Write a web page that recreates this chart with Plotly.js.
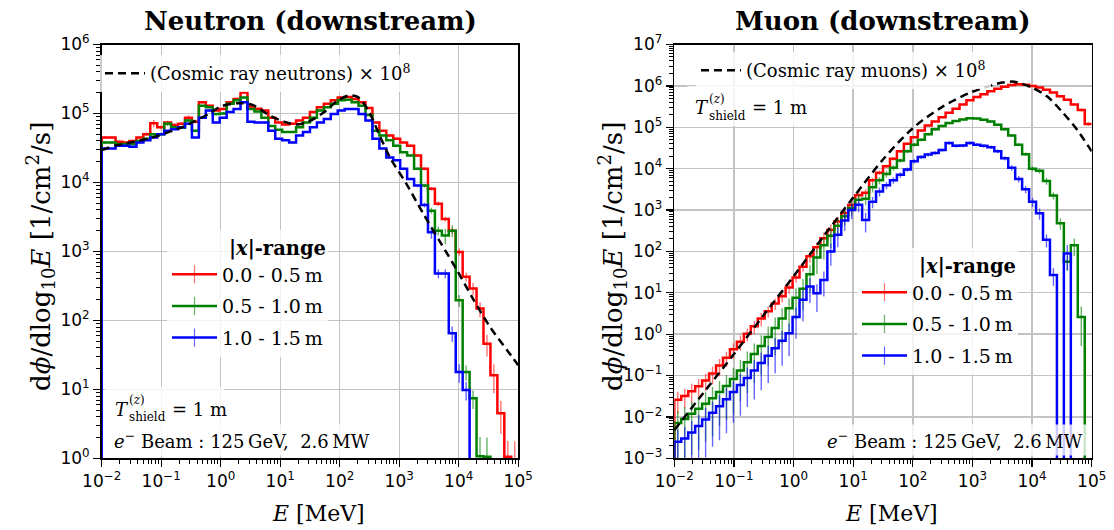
<!DOCTYPE html>
<html>
<head>
<meta charset="utf-8">
<script src="https://cdn.plot.ly/plotly-3.0.1.min.js"></script>
<style>
  html, body { margin: 0; padding: 0; background: #ffffff; }
  #chart { width: 1114px; height: 530px; }
</style>
</head>
<body>
<div id="chart"></div>
<script>
// ---------------------------------------------------------------------------
// Energy binning: 60 logarithmic bins from 1e-2 to 1e5 MeV
// ---------------------------------------------------------------------------
const E_MIN_EXP = -2, E_MAX_EXP = 5, N_BINS = 60;
const binEdges = [];
for (let k = 0; k <= N_BINS; k++) {
  binEdges.push(Math.pow(10, E_MIN_EXP + (E_MAX_EXP - E_MIN_EXP) * k / N_BINS));
}
const binCenters = binEdges.slice(0, N_BINS).map((e, i) => Math.sqrt(e * binEdges[i + 1]));

// Range labels for the |x| selections
const rangeLabels = ['0.0 - 0.5\u2009m', '0.5 - 1.0\u2009m', '1.0 - 1.5\u2009m'];

// ---------------------------------------------------------------------------
// Neutron flux, dphi/dlog10E [1/cm^2/s], per energy bin (0 = empty bin)
// ---------------------------------------------------------------------------
const neutronNear = [
  4.5e4, 4.5e4, 3.9e4, 3.8e4, 4.0e4, 4.5e4, 5.0e4, 7.2e4, 6.3e4, 7.4e4,
  6.8e4, 7.1e4, 8.7e4, 7.6e4, 1.45e5, 1.29e5, 1.10e5, 1.16e5, 1.45e5, 1.62e5,
  2.02e5, 1.26e5, 1.17e5, 1.10e5, 8.7e4, 7.4e4, 6.9e4, 7.1e4, 7.9e4, 8.7e4,
  1.05e5, 1.23e5, 1.38e5, 1.55e5, 1.70e5, 1.74e5, 1.62e5, 1.45e5, 1.20e5, 7.4e4,
  5.6e4, 4.8e4, 4.3e4, 3.8e4, 3.4e4, 2.45e4, 1.58e4, 8.1e3, 4.9e3, 2.95e3,
  2.0e3, 980, 430, 290, 148, 46, 16, 4.5, 1.05, 0.5
];
const neutronMid = [
  3.8e4, 3.8e4, 3.6e4, 3.6e4, 3.6e4, 4.0e4, 4.3e4, 5.0e4, 5.0e4, 7.1e4,
  6.3e4, 6.2e4, 7.9e4, 5.6e4, 1.29e5, 1.23e5, 9.8e4, 1.0e5, 1.38e5, 1.55e5,
  1.70e5, 1.16e5, 1.07e5, 8.7e4, 6.6e4, 5.8e4, 5.4e4, 5.4e4, 6.3e4, 7.4e4,
  8.7e4, 1.10e5, 1.23e5, 1.38e5, 1.55e5, 1.58e5, 1.45e5, 1.29e5, 9.5e4, 5.6e4,
  4.8e4, 4.1e4, 3.4e4, 2.75e4, 2.45e4, 1.58e4, 9.0e3, 3.9e3, 2.0e3, 1.7e3,
  2.0e3, 195, 17.8, 7.4, 1.07, 1.05, 0, 0, 0, 0
];
const neutronFar = [
  3.1e4, 3.1e4, 3.4e4, 3.4e4, 3.3e4, 3.8e4, 4.1e4, 4.5e4, 5.0e4, 5.6e4,
  5.9e4, 6.3e4, 7.1e4, 4.5e4, 8.7e4, 1.10e5, 7.4e4, 8.7e4, 1.05e5, 1.16e5,
  1.45e5, 7.6e4, 7.4e4, 7.4e4, 5.6e4, 4.3e4, 4.1e4, 3.8e4, 4.8e4, 5.4e4,
  6.3e4, 7.4e4, 8.3e4, 9.8e4, 1.10e5, 1.16e5, 1.16e5, 9.8e4, 7.9e4, 4.3e4,
  3.1e4, 2.3e4, 2.1e4, 1.58e4, 1.12e4, 9.0e3, 4.7e3, 1.9e3, 480, 480,
  65, 17.8, 9.8, 0, 0, 0, 0, 0, 0, 0
];
// relative statistical uncertainty per bin
const neutronNearErr = [
  0.05, 0.04, 0.04, 0.04, 0.04, 0.05, 0.06, 0.12, 0.06, 0.06,
  0.05, 0.05, 0.08, 0.06, 0.05, 0.04, 0.04, 0.04, 0.04, 0.04,
  0.06, 0.04, 0.03, 0.03, 0.03, 0.03, 0.03, 0.03, 0.03, 0.03,
  0.03, 0.03, 0.03, 0.03, 0.03, 0.03, 0.03, 0.03, 0.03, 0.03,
  0.03, 0.03, 0.03, 0.03, 0.04, 0.04, 0.05, 0.06, 0.08, 0.08,
  0.10, 0.12, 0.15, 0.20, 0.25, 0.35, 0.45, 0.50, 0.70, 2.5
];
const neutronMidErr = [
  0.04, 0.04, 0.04, 0.04, 0.04, 0.04, 0.04, 0.05, 0.05, 0.08,
  0.05, 0.05, 0.05, 0.05, 0.04, 0.04, 0.04, 0.04, 0.03, 0.03,
  0.03, 0.03, 0.03, 0.03, 0.03, 0.03, 0.03, 0.03, 0.03, 0.03,
  0.03, 0.03, 0.03, 0.03, 0.03, 0.03, 0.03, 0.03, 0.03, 0.03,
  0.03, 0.03, 0.04, 0.04, 0.04, 0.05, 0.06, 0.10, 0.15, 0.25,
  0.20, 0.20, 0.25, 0.30, 0.90, 0.90, 0, 0, 0, 0
];
const neutronFarErr = [
  0.04, 0.03, 0.03, 0.03, 0.03, 0.03, 0.03, 0.03, 0.03, 0.03,
  0.03, 0.03, 0.03, 0.03, 0.03, 0.03, 0.03, 0.03, 0.03, 0.03,
  0.03, 0.03, 0.03, 0.03, 0.03, 0.03, 0.03, 0.03, 0.03, 0.03,
  0.03, 0.03, 0.03, 0.03, 0.03, 0.03, 0.03, 0.03, 0.03, 0.03,
  0.03, 0.03, 0.03, 0.03, 0.03, 0.05, 0.08, 0.20, 0.15, 0.15,
  0.25, 0.30, 0.30, 0, 0, 0, 0, 0, 0, 0
];
// Cosmic-ray neutron spectrum (scaled by 1e8)
const cosmicNeutronE = [
  0.01, 0.0166, 0.06, 0.22, 0.62, 1.0, 2.0, 3.5, 7, 13, 19, 30, 55, 90,
  140, 200, 300, 450, 700, 1300, 2500, 5000, 9300, 18000, 34000, 65000, 100000
];
const cosmicNeutronFlux = [
  2.95e4, 3.4e4, 4.3e4, 6.3e4, 9.8e4, 1.26e5, 1.41e5, 1.32e5, 9.1e4, 7.4e4, 6.9e4, 7.6e4, 1.05e5, 1.51e5,
  1.82e5, 1.74e5, 1.12e5, 5.2e4, 2.3e4, 9.8e3, 3.6e3, 1.32e3, 540, 195, 79, 37, 22.4
];

// ---------------------------------------------------------------------------
// Muon flux, dphi/dlog10E [1/cm^2/s], per energy bin (0 = empty bin)
// ---------------------------------------------------------------------------
const muonNear = [
  0.026, 0.032, 0.042, 0.055, 0.076, 0.112, 0.174, 0.27, 0.43, 0.66,
  1.02, 1.55, 2.4, 3.6, 5.5, 8.3, 13.5, 23.4, 42.7, 76,
  126, 209, 331, 525, 851, 1320, 2290, 2630, 5250, 7940,
  1.15e4, 1.74e4, 2.63e4, 3.98e4, 5.75e4, 8.3e4, 1.10e5, 1.38e5, 1.74e5, 2.24e5,
  2.82e5, 3.55e5, 4.47e5, 5.37e5, 6.31e5, 7.41e5, 8.51e5, 9.55e5, 1.05e6, 1.10e6,
  1.07e6, 1.0e6, 9.1e5, 8.1e5, 6.9e5, 5.6e5, 4.6e5, 3.55e5, 2.63e5, 1.2e5
];
const muonMid = [
  0.0071, 0.0089, 0.012, 0.0158, 0.0209, 0.0282, 0.040, 0.056, 0.083, 0.132,
  0.209, 0.33, 0.52, 0.85, 1.41, 2.4, 4.2, 7.6, 12.6, 28,
  71, 141, 240, 417, 708, 1120, 1780, 1860, 3550, 5250,
  7400, 1.05e4, 1.58e4, 2.63e4, 3.8e4, 5.0e4, 6.8e4, 8.9e4, 1.07e5, 1.26e5,
  1.41e5, 1.55e5, 1.66e5, 1.62e5, 1.51e5, 1.38e5, 1.15e5, 8.9e4, 6.3e4, 3.8e4,
  2.24e4, 1.0e4, 8.9e3, 5.0e3, 2.24e3, 479, 56, 141, 2.6, 0
];
const muonFar = [
  0.0025, 0.0030, 0.0042, 0.0060, 0.0087, 0.0126, 0.0182, 0.0269, 0.040, 0.059,
  0.087, 0.132, 0.20, 0.30, 0.457, 0.69, 1.05, 2.6, 6.8, 14.1,
  9.8, 20.4, 100, 251, 562, 1000, 1350, 575, 1580, 2820,
  3980, 5250, 7080, 9550, 1.51e4, 1.91e4, 2.19e4, 2.4e4, 2.82e4, 4.17e4,
  3.55e4, 3.63e4, 4.17e4, 3.8e4, 3.55e4, 3.3e4, 2.63e4, 1.78e4, 1.05e4, 5620,
  3160, 1580, 832, 191, 26.9, 0, 89, 0, 0, 0
];
const muonNearErr = [
  0.55, 0.50, 0.50, 0.50, 0.45, 0.45, 0.45, 0.40, 0.40, 0.40,
  0.35, 0.35, 0.35, 0.30, 0.30, 0.30, 0.30, 0.25, 0.25, 0.30,
  0.30, 0.35, 0.35, 0.30, 0.30, 0.30, 0.25, 0.20, 0.15, 0.12,
  0.10, 0.10, 0.08, 0.08, 0.06, 0.06, 0.05, 0.05, 0.05, 0.04,
  0.04, 0.04, 0.04, 0.04, 0.04, 0.04, 0.04, 0.04, 0.04, 0.04,
  0.04, 0.04, 0.05, 0.05, 0.05, 0.06, 0.06, 0.07, 0.08, 0.10
];
const muonMidErr = [
  0.95, 0.92, 0.90, 0.90, 0.88, 0.88, 0.85, 0.85, 0.85, 0.82,
  0.82, 0.80, 0.80, 0.80, 0.78, 0.75, 0.75, 0.70, 0.70, 0.65,
  0.60, 0.55, 0.50, 0.45, 0.40, 0.35, 0.30, 0.30, 0.25, 0.20,
  0.18, 0.15, 0.12, 0.10, 0.10, 0.08, 0.08, 0.07, 0.07, 0.06,
  0.06, 0.06, 0.06, 0.06, 0.06, 0.06, 0.07, 0.07, 0.08, 0.09,
  0.10, 0.12, 0.15, 0.18, 0.20, 0.30, 0.40, 0.45, 0.80, 0
];
const muonFarErr = [
  0.95, 0.90, 0.90, 0.88, 0.88, 0.85, 0.85, 0.85, 0.82, 0.82,
  0.80, 0.80, 0.78, 0.78, 0.75, 0.75, 0.72, 0.70, 0.70, 0.60,
  0.65, 0.60, 0.55, 0.50, 0.45, 0.40, 0.35, 0.50, 0.30, 0.25,
  0.20, 0.18, 0.15, 0.12, 0.12, 0.10, 0.10, 0.10, 0.09, 0.09,
  0.09, 0.09, 0.09, 0.09, 0.10, 0.10, 0.10, 0.12, 0.15, 0.18,
  0.20, 0.25, 0.30, 0.35, 0.45, 0, 0.60, 0, 0, 0
];
// Cosmic-ray muon spectrum (scaled by 1e8)
const cosmicMuonE = [
  0.01, 0.0316, 0.1, 0.316, 1, 3.16, 10, 31.6, 100, 316, 1000, 3160, 5010,
  10000, 17800, 31600, 56200, 100000
];
const cosmicMuonFlux = [
  0.0048, 0.040, 0.33, 2.9, 25.1, 229, 2000, 1.66e4, 9.5e4, 3.16e5, 7.2e5, 1.20e6, 1.26e6,
  9.1e5, 5.6e5, 2.4e5, 8.9e4, 2.63e4
];

// Axis ticks
const xTickVals = [1e-2, 1e-1, 1e0, 1e1, 1e2, 1e3, 1e4, 1e5];
const xTickText = ['10<sup>\u22122</sup>', '10<sup>\u22121</sup>', '10<sup>0</sup>', '10<sup>1</sup>',
                   '10<sup>2</sup>', '10<sup>3</sup>', '10<sup>4</sup>', '10<sup>5</sup>'];
const nYTickVals = [1e0, 1e1, 1e2, 1e3, 1e4, 1e5, 1e6];
const nYTickText = ['10<sup>0</sup>', '10<sup>1</sup>', '10<sup>2</sup>', '10<sup>3</sup>',
                    '10<sup>4</sup>', '10<sup>5</sup>', '10<sup>6</sup>'];
const mYTickVals = [1e-3, 1e-2, 1e-1, 1e0, 1e1, 1e2, 1e3, 1e4, 1e5, 1e6, 1e7];
const mYTickText = ['10<sup>\u22123</sup>', '10<sup>\u22122</sup>', '10<sup>\u22121</sup>', '10<sup>0</sup>',
                    '10<sup>1</sup>', '10<sup>2</sup>', '10<sup>3</sup>', '10<sup>4</sup>',
                    '10<sup>5</sup>', '10<sup>6</sup>', '10<sup>7</sup>'];

// ---------------------------------------------------------------------------
// Styling
// ---------------------------------------------------------------------------
const SERIF = 'DejaVu Serif';
const SANS = 'DejaVu Sans';
const W = 1114, H = 530;
const px = v => v / W;          // horizontal pixel -> paper
const py = v => 1 - v / H;      // vertical pixel -> paper
const FLOOR = 1e-9;             // stand-in for empty bins on the log axis

const colors = ['#ff0000', '#008000', '#0000ff'];
const errColors = ['rgba(255,0,0,0.55)', 'rgba(0,128,0,0.6)', 'rgba(0,0,255,0.6)'];

const minorVals = [];
for (let n = -4; n <= 7; n++) for (let m = 2; m <= 9; m++) minorVals.push(m * Math.pow(10, n));

// Step outline of a histogram: rises from the floor at the first edge,
// ends at the last edge
function stepTrace(vals, color, xa, ya) {
  const x = [binEdges[0]], y = [FLOOR];
  vals.forEach((v, i) => { x.push(binEdges[i]); y.push(v > 0 ? v : FLOOR); });
  const last = vals[vals.length - 1];
  x.push(binEdges[N_BINS]); y.push(last > 0 ? last : FLOOR);
  return { type: 'scatter', mode: 'lines', x, y, xaxis: xa, yaxis: ya,
           line: { color, width: 2.5, shape: 'hv' }, showlegend: false, hoverinfo: 'skip' };
}

function errorTrace(vals, rel, color, xa, ya) {
  const x = [], y = [], up = [], dn = [];
  vals.forEach((v, i) => {
    if (v > 0 && rel[i] > 0) {
      x.push(binCenters[i]); y.push(v);
      up.push(v * rel[i]); dn.push(v * Math.min(rel[i], 0.999));
    }
  });
  return { type: 'scatter', mode: 'markers', x, y, xaxis: xa, yaxis: ya,
           marker: { size: 1, color: 'rgba(0,0,0,0)' },
           error_y: { type: 'data', symmetric: false, array: up, arrayminus: dn,
                      color, thickness: 1.4, width: 0 },
           showlegend: false, hoverinfo: 'skip' };
}

function legendEntry(i, legendId, xa, ya) {
  return { type: 'scatter', mode: 'lines+markers', x: [null], y: [null], xaxis: xa, yaxis: ya,
           name: rangeLabels[i], legend: legendId, legendgroup: legendId + '-' + i,
           line: { color: colors[i], width: 2.5 },
           marker: { symbol: 'line-ns-open', size: 13, color: errColors[i],
                     line: { color: errColors[i], width: 1.2 } } };
}

function cosmicTrace(E, flux, name, legendId, xa, ya) {
  return { type: 'scatter', mode: 'lines', x: E, y: flux, xaxis: xa, yaxis: ya,
           name, legend: legendId,
           line: { color: 'black', width: 2.5, dash: '8px,5px', shape: 'spline', smoothing: 0.8 },
           hoverinfo: 'skip' };
}

const neutronSets = [[neutronNear, neutronNearErr], [neutronMid, neutronMidErr], [neutronFar, neutronFarErr]];
const muonSets = [[muonNear, muonNearErr], [muonMid, muonMidErr], [muonFar, muonFarErr]];

const traces = [];
neutronSets.forEach(([v, e], i) => {
  traces.push(errorTrace(v, e, errColors[i], 'x', 'y'));
  traces.push(stepTrace(v, colors[i], 'x', 'y'));
});
traces.push(cosmicTrace(cosmicNeutronE, cosmicNeutronFlux,
  '(Cosmic ray neutrons) \u00d7 10<sup>8</sup>', 'legend2', 'x', 'y'));
muonSets.forEach(([v, e], i) => {
  traces.push(errorTrace(v, e, errColors[i], 'x2', 'y2'));
  traces.push(stepTrace(v, colors[i], 'x2', 'y2'));
});
traces.push(cosmicTrace(cosmicMuonE, cosmicMuonFlux,
  '(Cosmic ray muons) \u00d7 10<sup>8</sup>', 'legend4', 'x2', 'y2'));
[0, 1, 2].forEach(i => traces.push(legendEntry(i, 'legend', 'x', 'y')));
[0, 1, 2].forEach(i => traces.push(legendEntry(i, 'legend3', 'x2', 'y2')));

const axisBase = {
  type: 'log', showline: true, linecolor: 'black', linewidth: 1.6, mirror: true,
  ticks: 'outside', ticklen: 7, tickwidth: 1.3, tickcolor: 'black',
  showgrid: true, gridcolor: '#c3c3c3', gridwidth: 1.4, zeroline: false,
  tickfont: { family: SANS, size: 17, color: 'black' },
  tickmode: 'array',
  minor: { ticks: 'outside', ticklen: 4, tickwidth: 1, tickcolor: 'black',
           tickmode: 'array', tickvals: minorVals, showgrid: false }
};
const yDomain = [py(458.3), py(44.5)];

const legendBase = {
  bgcolor: 'rgba(255,255,255,0.8)', borderwidth: 0,
  xanchor: 'left', yanchor: 'top', itemwidth: 45,
  font: { family: SERIF, size: 19, color: 'black' }
};
const rangeTitle = { text: '<b>|<i>x</i>|-range</b>', side: 'top right',
                     font: { family: SERIF, size: 19.5, color: 'black' } };

function note(text, x, y, opts) {
  return Object.assign({ text, x: px(x), y: py(y), xref: 'paper', yref: 'paper',
    showarrow: false, xanchor: 'left', yanchor: 'middle',
    font: { family: SERIF, size: 18, color: 'black' } }, opts || {});
}
function shieldNote(x, y) {
  return [
    note('<i>T</i>', x, y),
    note('(<i>z</i>)', x + 14, y - 9, { font: { family: SERIF, size: 12, color: 'black' } }),
    note('shield', x + 14, y + 8, { font: { family: SERIF, size: 12, color: 'black' } }),
    note('= 1 m', x + 57, y)
  ];
}
const beamText = '<i>e</i><sup>\u2212</sup> Beam : 125\u2009GeV,  2.6\u2009MW';
const yTitle = 'd<i>\u03d5</i>/dlog<sub>10</sub><i>E</i> [1/cm<sup>2</sup>/s]';

const annotations = [
  note('<b>Neutron (downstream)</b>', 310, 21, { xanchor: 'center', font: { family: SERIF, size: 26, color: 'black' } }),
  note('<b>Muon (downstream)</b>', 883, 21, { xanchor: 'center', font: { family: SERIF, size: 26, color: 'black' } }),
  note('<i>E</i> [MeV]', 318, 513, { xanchor: 'center', font: { family: SERIF, size: 22, color: 'black' } }),
  note('<i>E</i> [MeV]', 891, 513, { xanchor: 'center', font: { family: SERIF, size: 22, color: 'black' } }),
  note(yTitle, 40, 257, { xanchor: 'center', textangle: -90, font: { family: SERIF, size: 26, color: 'black' } }),
  note(yTitle, 612, 257, { xanchor: 'center', textangle: -90, font: { family: SERIF, size: 26, color: 'black' } }),
  note(beamText, 110, 440, { bgcolor: 'rgba(255,255,255,0.8)', borderpad: 3 }),
  note(beamText, 1087, 440, { xanchor: 'right', bgcolor: 'rgba(255,255,255,0.8)', borderpad: 3 })
].concat(shieldNote(113, 409), shieldNote(693, 108));

const shapes = [
  { type: 'rect', xref: 'paper', yref: 'paper', x0: px(105), x1: px(224), y0: py(427), y1: py(387),
    fillcolor: 'rgba(255,255,255,0.8)', line: { width: 0 } },
  { type: 'rect', xref: 'paper', yref: 'paper', x0: px(687), x1: px(804), y0: py(126), y1: py(86),
    fillcolor: 'rgba(255,255,255,0.8)', line: { width: 0 } }
];

const layout = {
  width: W, height: H,
  margin: { l: 0, r: 0, t: 0, b: 0 },
  paper_bgcolor: 'white', plot_bgcolor: 'white',
  xaxis: Object.assign({}, axisBase, { domain: [px(101.7), px(518.2)], range: [-2, 5],
    tickvals: xTickVals, ticktext: xTickText, anchor: 'y' }),
  yaxis: Object.assign({}, axisBase, { domain: yDomain, range: [0, 6],
    tickvals: nYTickVals, ticktext: nYTickText, anchor: 'x' }),
  xaxis2: Object.assign({}, axisBase, { domain: [px(674.3), px(1091.7)], range: [-2, 5],
    tickvals: xTickVals, ticktext: xTickText, anchor: 'y2' }),
  yaxis2: Object.assign({}, axisBase, { domain: yDomain, range: [-3, 7],
    tickvals: mYTickVals, ticktext: mYTickText, anchor: 'x2' }),
  legend: Object.assign({}, legendBase, { x: px(167), y: py(230), title: rangeTitle,
    traceorder: 'grouped', tracegroupgap: 4 }),
  legend2: Object.assign({}, legendBase, { x: px(100), y: py(55), itemwidth: 40,
    font: { family: SERIF, size: 18, color: 'black' } }),
  legend3: Object.assign({}, legendBase, { x: px(857), y: py(248), title: rangeTitle,
    traceorder: 'grouped', tracegroupgap: 4 }),
  legend4: Object.assign({}, legendBase, { x: px(696), y: py(52), itemwidth: 40,
    font: { family: SERIF, size: 18, color: 'black' } }),
  annotations, shapes,
  showlegend: true
};

Plotly.newPlot('chart', traces, layout, { staticPlot: true, displayModeBar: false });
</script>
</body>
</html>
